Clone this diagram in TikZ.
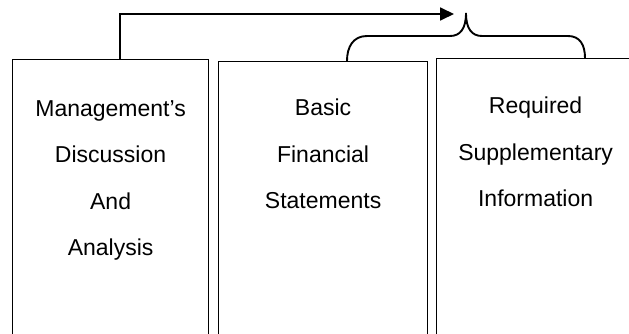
\documentclass[tikz,border=0pt]{standalone}
\usepackage{fontspec}
\setmainfont{Liberation Sans}
\usetikzlibrary{arrows.meta,calc}
\begin{document}
\begin{tikzpicture}[x=1pt,y=-1pt,
  box/.style={draw=black,line width=1.2pt,rectangle,anchor=north west,inner sep=0pt},
  lbl/.style={anchor=north,align=center,inner sep=0pt,font=\fontsize{23}{46.5}\selectfont},
  arr/.style={line width=1.8pt,-{Triangle[length=14pt,width=13pt]}},
  brc/.style={line width=1.9pt}]
\useasboundingbox (0,0) rectangle (629,334);
\clip (0,0) rectangle (629,334);
% boxes (open at the bottom edge of the picture)
\node[box,minimum width=196pt,minimum height=300pt] (m) at (12,59) {};
\node[box,minimum width=209pt,minimum height=300pt] (b) at (218,61) {};
\node[box,minimum width=198pt,minimum height=300pt] (r) at (436,58) {};
% texts
\node[lbl] (mt) at ($(m.north)+(0,41)$) {Management's\\Discussion\\And\\Analysis};
\node[lbl] (bt) at ($(b.north)+(0,38)$) {Basic\\Financial\\Statements};
\node[lbl] (rt) at ($(r.north)+(0,39)$) {Required\\Supplementary\\Information};
% brace
\coordinate (tip) at (466,13);
\coordinate (bl) at (347,61);
\coordinate (br) at (585,58);
\draw[brc] (bl) .. controls (347,47) and (353,36) .. (367,36)
  -- (450,36) .. controls (460,36) and (466,29) .. (tip)
  .. controls (466,29) and (472,36) .. (482,36)
  -- (568,36) .. controls (580,36) and (585,45) .. (br);
% arrow
\coordinate (at) at (454,14);
\draw[arr] ($(m.north west)+(108,0)$) |- (at);
\end{tikzpicture}
\end{document}
